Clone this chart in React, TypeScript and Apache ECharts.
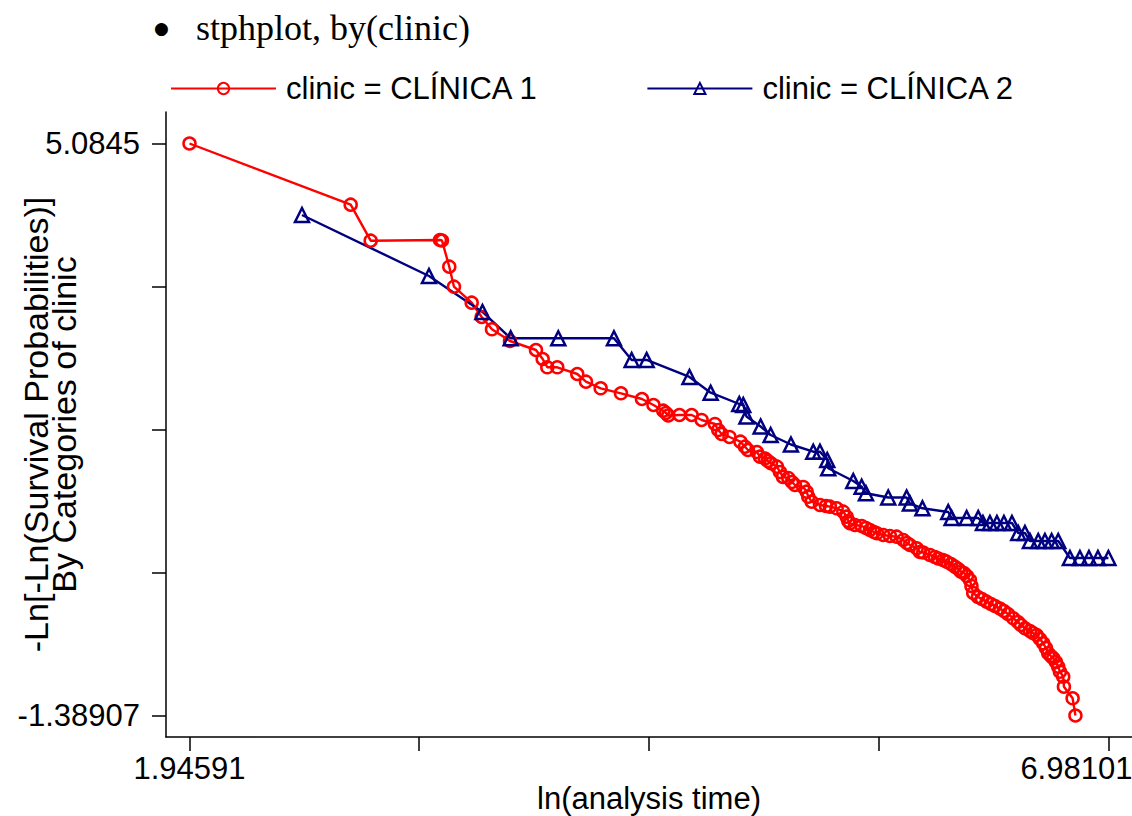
import { useEffect, useRef } from "react";
import * as echarts from "echarts";

// ln(analysis time) and -ln(-ln S) for each clinic
const clinic1X = [
  1.94591, 2.8291, 2.9387, 3.3184, 3.3293, 3.3693, 3.3951, 3.4921, 3.5469, 3.6033,
  3.7019, 3.8444, 3.8811, 3.9063, 3.9611, 4.0707, 4.1183, 4.1989, 4.3101, 4.4251,
  4.4882, 4.5418, 4.5566, 4.5692, 4.6306, 4.6975, 4.7522, 4.8251, 4.8432, 4.8618,
  4.9046, 4.9648, 4.9895, 5.0059, 5.0552, 5.0717, 5.0991, 5.1155, 5.1319, 5.1648,
  5.1813, 5.1977, 5.2267, 5.247, 5.2634, 5.3089, 5.3275, 5.3363, 5.3549, 5.4004,
  5.4333, 5.4552, 5.4919, 5.5281, 5.5467, 5.5555, 5.5648, 5.5922, 5.6289, 5.6524,
  5.6744, 5.6963, 5.7127, 5.7472, 5.7839, 5.8206, 5.8568, 5.8771, 5.8935, 5.9302,
  5.9483, 5.9664, 6.0031, 6.0305, 6.0486, 6.0743, 6.0946, 6.1182, 6.1401, 6.1582,
  6.173, 6.1894, 6.2058, 6.2223, 6.2305, 6.2403, 6.2661, 6.288, 6.3138, 6.3373,
  6.3592, 6.3866, 6.4085, 6.4305, 6.4595, 6.4852, 6.5017, 6.5236, 6.551, 6.5674,
  6.5877, 6.6058, 6.6239, 6.6387, 6.6513, 6.6661, 6.6787, 6.6934, 6.706, 6.7154,
  6.7334, 6.7373, 6.7849, 6.8003,
];
const clinic1Y = [
  5.0845, 4.3919, 3.9845, 3.9924, 3.9868, 3.6902, 3.4639, 3.2828, 3.121, 2.9818,
  2.8494, 2.7475, 2.6457, 2.5518, 2.5518, 2.4759, 2.3888, 2.3141, 2.2575, 2.193,
  2.1251, 2.0606, 2.0346, 2.0063, 2.0119, 2.0119, 1.9554, 1.9101, 1.8422, 1.7969,
  1.763, 1.7098, 1.6532, 1.6158, 1.5932, 1.54, 1.5196, 1.4914, 1.4653, 1.4268,
  1.3669, 1.3103, 1.299, 1.2537, 1.2197, 1.1971, 1.1439, 1.0873, 1.0308, 0.9934,
  0.9821, 0.9742, 0.9561, 0.9176, 0.861, 0.8123, 0.7863, 0.7671, 0.7557, 0.7331,
  0.7105, 0.6878, 0.6731, 0.6539, 0.6426, 0.6346, 0.5973, 0.5634, 0.5407, 0.5034,
  0.4615, 0.4558, 0.4276, 0.4049, 0.3879, 0.371, 0.3517, 0.3257, 0.2951, 0.2691,
  0.2386, 0.2238, 0.1899, 0.1446, 0.0767, -0.0025, -0.0478, -0.0704, -0.101, -0.127,
  -0.1496, -0.1779, -0.2062, -0.2401, -0.2888, -0.3307, -0.3646, -0.402, -0.4325, -0.4552,
  -0.4778, -0.5231, -0.5717, -0.6249, -0.6849, -0.7155, -0.7415, -0.7834, -0.8366, -0.8931,
  -0.9497, -1.0629, -1.1942, -1.38907,
];
const clinic2X = [
  2.5623, 3.2581, 3.5512, 3.7058, 3.9666, 4.2717, 4.3687, 4.4509, 4.6854, 4.8016,
  4.9583, 4.9802, 4.9977, 5.0755, 5.1303, 5.2415, 5.3637, 5.4004, 5.4404, 5.4459,
  5.5829, 5.6289, 5.6524, 5.7746, 5.8754, 5.8935, 5.962, 6.1034, 6.122, 6.2042,
  6.2677, 6.2935, 6.3318, 6.3702, 6.4085, 6.4524, 6.4869, 6.5236, 6.551, 6.5965,
  6.6332, 6.6699, 6.706, 6.7702, 6.8249, 6.8743, 6.9236, 6.98101,
];
const clinic2Y = [
  4.2753, 3.585, 3.1776, 2.8799, 2.8799, 2.8799, 2.6344, 2.6344, 2.442, 2.2643,
  2.1364, 2.1251, 1.995, 1.8818, 1.7856, 1.6781, 1.5966, 1.5966, 1.5027, 1.4087,
  1.265, 1.2005, 1.1258, 1.0783, 1.0783, 1.0104, 0.9561, 0.9142, 0.8463, 0.8463,
  0.8463, 0.7897, 0.7897, 0.7897, 0.7897, 0.7897, 0.6765, 0.6765, 0.586, 0.586,
  0.586, 0.586, 0.586, 0.3936, 0.3936, 0.3936, 0.3936, 0.3936,
];

const seriesNames = ["clinic = CLÍNICA 1", "clinic = CLÍNICA 2"];
const xTicks = [1.94591, 3.204685, 4.46346, 5.722235, 6.98101];
const yTicks = [-1.38907, 0.2293225, 1.847715, 3.4661075, 5.0845];
const xLabels = [1.94591, 6.98101];
const yLabels = [-1.38907, 5.0845];
const titleText = "stphplot, by(clinic)";
const xTitle = "ln(analysis time)";
const yTitle = "-Ln[-Ln(Survival Probabilities)]\nBy Categories of clinic";

const SANS = "'Liberation Sans', Arial, sans-serif";
const SERIF = "'Liberation Serif', 'Times New Roman', serif";

export default function App() {
  const ref = useRef<HTMLDivElement>(null);
  useEffect(() => {
    if (!ref.current) return;
    const chart = echarts.init(ref.current, null, { renderer: "svg" });
    const red = "#ff0000";
    const navy = "#000080";
    const axisCommon = {
      type: "value" as const,
      splitLine: { show: false },
      axisLine: { show: true, onZero: false, lineStyle: { color: "#000", width: 1.5 } },
    };
    chart.setOption({
      animation: false,
      backgroundColor: "#fff",
      title: {
        text: `{b|●}{t|${titleText}}`,
        left: 149,
        top: 5,
        textStyle: {
          fontWeight: "normal",
          rich: {
            b: {
              fontFamily: "'DejaVu Sans', sans-serif",
              fontSize: 17,
              fontWeight: "normal",
              color: "#000",
              width: 42,
              verticalAlign: "middle",
            },
            t: {
              fontFamily: SERIF,
              fontSize: 36,
              fontWeight: "normal",
              color: "#000",
              verticalAlign: "middle",
            },
          },
        },
      },
      legend: {
        data: seriesNames,
        top: 68,
        left: 165,
        itemWidth: 105,
        itemHeight: 14,
        itemGap: 108,
        textStyle: { fontFamily: SANS, fontSize: 31, color: "#000", padding: [0, 0, 0, 5] },
      },
      grid: {
        left: 166,
        right: 0,
        top: 112,
        bottom: 79,
        containLabel: false,
        outerBoundsMode: "none",
      },
      xAxis: {
        ...axisCommon,
        min: 1.81714,
        max: 7.11029,
        axisTick: {
          show: true,
          customValues: xTicks,
          length: 14,
          lineStyle: { color: "#000", width: 1.5 },
        },
        axisLabel: {
          customValues: xLabels,
          margin: 16,
          fontFamily: SANS,
          fontSize: 31,
          color: "#000",
          formatter: (v: number) => (v === xLabels[1] ? `{r|${v}}` : `${v}`),
          rich: {
            r: { fontFamily: SANS, fontSize: 31, color: "#000", padding: [0, 64, 0, 0] },
          },
        },
        name: xTitle,
        nameLocation: "middle",
        nameGap: 46,
        nameMoveOverlap: false,
        nameTextStyle: { fontFamily: SANS, fontSize: 31, color: "#000" },
      },
      yAxis: {
        ...axisCommon,
        min: -1.63239,
        max: 5.441,
        axisTick: {
          show: true,
          customValues: yTicks,
          length: 14,
          lineStyle: { color: "#000", width: 1.5 },
        },
        axisLabel: {
          customValues: yLabels,
          margin: 26,
          fontFamily: SANS,
          fontSize: 31,
          color: "#000",
          formatter: (v: number) => `${v}`,
        },
        name: yTitle,
        nameLocation: "middle",
        nameRotate: 90,
        nameGap: 88,
        nameMoveOverlap: false,
        nameTextStyle: { fontFamily: SANS, fontSize: 34, color: "#000", lineHeight: 28, align: "center" },
      },
      series: [
        {
          name: seriesNames[0],
          type: "line",
          data: clinic1X.map((x, i) => [x, clinic1Y[i]]),
          symbol: "circle",
          symbolSize: 12,
          lineStyle: { color: red, width: 2.4 },
          itemStyle: { color: "rgba(255,255,255,0)", borderColor: red, borderWidth: 2.5 },
          emphasis: { disabled: true },
          clip: false,
        },
        {
          name: seriesNames[1],
          type: "line",
          data: clinic2X.map((x, i) => [x, clinic2Y[i]]),
          symbol: "triangle",
          symbolSize: 14,
          lineStyle: { color: navy, width: 2.4 },
          itemStyle: { color: "rgba(255,255,255,0)", borderColor: navy, borderWidth: 2.5 },
          emphasis: { disabled: true },
          clip: false,
        },
      ],
    });
    return () => chart.dispose();
  }, []);
  return (
    <div
      ref={ref}
      style={{ position: "fixed", left: 0, top: 0, width: 1132, height: 816, background: "#fff" }}
    />
  );
}
